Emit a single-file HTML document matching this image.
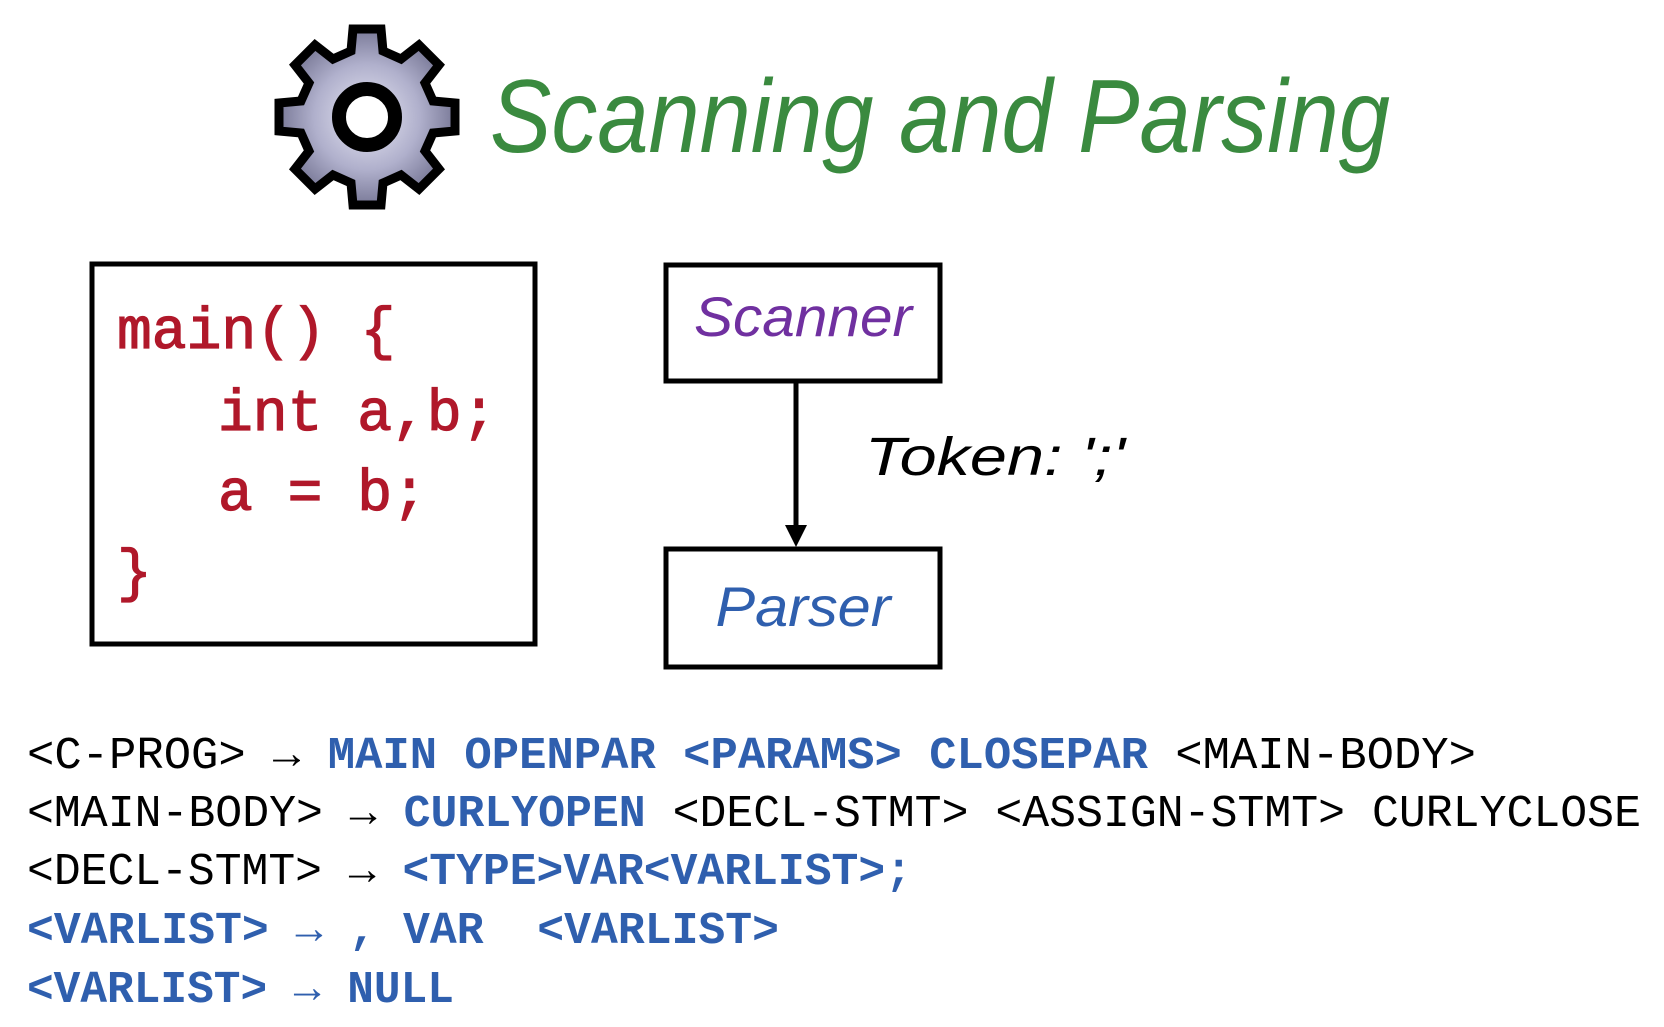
<!DOCTYPE html>
<html><head><meta charset="utf-8"><style>
html,body{margin:0;padding:0;background:#fff;}
body{width:1664px;height:1022px;overflow:hidden;}
</style></head><body>
<svg width="1664" height="1022" viewBox="0 0 1664 1022" xmlns="http://www.w3.org/2000/svg">
<defs>
<radialGradient id="g" cx="50%" cy="50%" r="50%">
<stop offset="0%" stop-color="#e8e8f4"/><stop offset="60%" stop-color="#b0b0cc"/><stop offset="100%" stop-color="#7a7a98"/>
</radialGradient>
</defs>
<g transform="translate(367,117)">
<g fill="url(#g)" stroke="#000" stroke-width="9" stroke-linejoin="miter">
<path d="M-14,-88 L14,-88 L16,-66 L34,-58 L52,-72 L72,-52 L58,-34 L66,-16 L88,-14 L88,14 L66,16 L58,34 L72,52 L52,72 L34,58 L16,66 L14,88 L-14,88 L-16,66 L-34,58 L-52,72 L-72,52 L-58,34 L-66,16 L-88,14 L-88,-14 L-66,-16 L-58,-34 L-72,-52 L-52,-72 L-34,-58 L-16,-66 Z"/>
</g>
<circle r="28" fill="#fff" stroke="#000" stroke-width="14"/>
</g>
<text x="490" y="152" font-family="Liberation Sans, sans-serif" font-style="italic" font-size="104" fill="#3a8a3f" textLength="900" lengthAdjust="spacingAndGlyphs">Scanning and Parsing</text>

<rect x="92" y="264" width="443" height="380" fill="none" stroke="#000" stroke-width="5"/>
<g font-family="Liberation Mono, monospace" font-size="58" fill="#b0182a" stroke="#b0182a" stroke-width="1.2">
<text x="117" y="348">main() {</text>
<text x="218" y="430">int a,b;</text>
<text x="218" y="510">a = b;</text>
<text x="117" y="590">}</text>
</g>

<rect x="666" y="265" width="274" height="116" fill="none" stroke="#000" stroke-width="5"/>
<text x="803" y="336" text-anchor="middle" font-family="Liberation Sans, sans-serif" font-style="italic" font-size="56" fill="#7030a0" textLength="218" lengthAdjust="spacingAndGlyphs">Scanner</text>
<rect x="666" y="549" width="274" height="118" fill="none" stroke="#000" stroke-width="5"/>
<text x="803" y="626" text-anchor="middle" font-family="Liberation Sans, sans-serif" font-style="italic" font-size="56" fill="#2f5fae" textLength="175" lengthAdjust="spacingAndGlyphs">Parser</text>
<line x1="796" y1="381" x2="796" y2="528" stroke="#000" stroke-width="5"/>
<polygon points="785,525 807,525 796,547" fill="#000"/>
<text x="865" y="475" font-family="Liberation Sans, sans-serif" font-style="italic" font-size="54" fill="#000" textLength="260" lengthAdjust="spacingAndGlyphs">Token: ';'</text>

<g font-family="Liberation Mono, monospace" font-size="45" fill="#000">
<text x="27" y="768" textLength="1449" lengthAdjust="spacingAndGlyphs">&lt;C-PROG&gt; → <tspan fill="#2f5fae" font-weight="bold">MAIN OPENPAR &lt;PARAMS&gt; CLOSEPAR</tspan> &lt;MAIN-BODY&gt;</text>
<text x="27" y="826" textLength="1614" lengthAdjust="spacingAndGlyphs">&lt;MAIN-BODY&gt; → <tspan fill="#2f5fae" font-weight="bold">CURLYOPEN</tspan> &lt;DECL-STMT&gt; &lt;ASSIGN-STMT&gt; CURLYCLOSE</text>
<text x="27" y="884" textLength="885" lengthAdjust="spacingAndGlyphs">&lt;DECL-STMT&gt; → <tspan fill="#2f5fae" font-weight="bold">&lt;TYPE&gt;VAR&lt;VARLIST&gt;;</tspan></text>
<text x="27" y="943" fill="#2f5fae" font-weight="bold" xml:space="preserve" textLength="752" lengthAdjust="spacingAndGlyphs">&lt;VARLIST&gt; → , VAR  &lt;VARLIST&gt;</text>
<text x="27" y="1002" fill="#2f5fae" font-weight="bold" textLength="427" lengthAdjust="spacingAndGlyphs">&lt;VARLIST&gt; → NULL</text>
</g>
</svg>
</body></html>
